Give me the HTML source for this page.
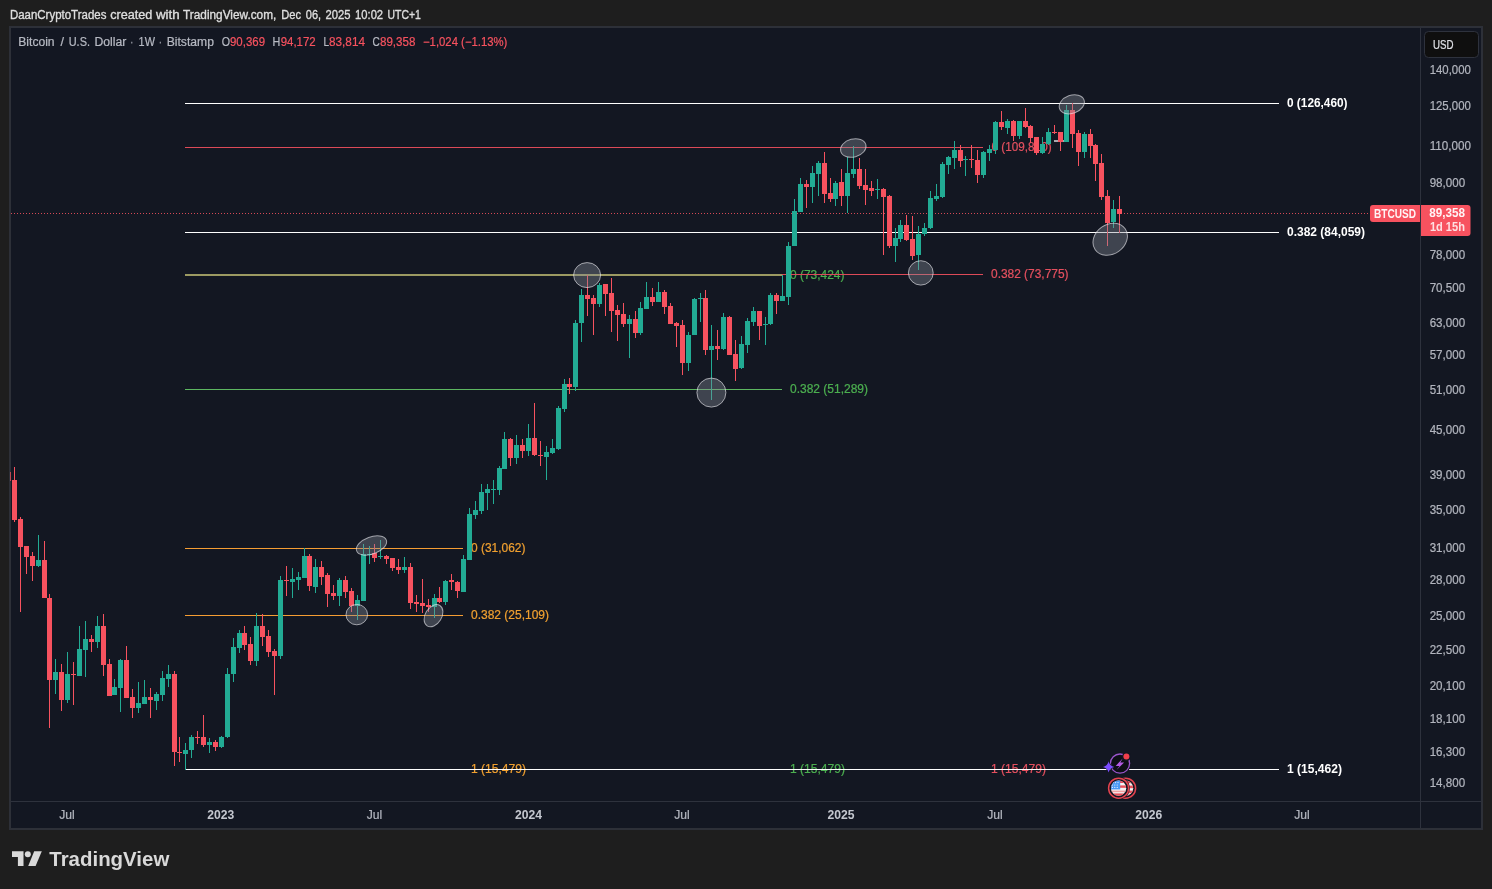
<!DOCTYPE html>
<html><head><meta charset="utf-8"><title>BTCUSD chart</title><style>html,body{margin:0;padding:0;background:#1e1e1e}svg{display:block}</style></head><body>
<svg width="1492" height="889" viewBox="0 0 1492 889" font-family='"Liberation Sans", "DejaVu Sans", sans-serif' font-size="12">
<rect width="1492" height="889" fill="#1e1e1e"/>
<text x="9.9" y="18.6" fill="#dedede" stroke="#dedede" stroke-width="0.35" textLength="96.5" lengthAdjust="spacingAndGlyphs">DaanCryptoTrades</text>
<text x="110.19999999999999" y="18.6" fill="#dedede" stroke="#dedede" stroke-width="0.35" textLength="42.2" lengthAdjust="spacingAndGlyphs">created</text>
<text x="155.9" y="18.6" fill="#dedede" stroke="#dedede" stroke-width="0.35" textLength="23.7" lengthAdjust="spacingAndGlyphs">with</text>
<text x="183.1" y="18.6" fill="#dedede" stroke="#dedede" stroke-width="0.35" textLength="93.2" lengthAdjust="spacingAndGlyphs">TradingView.com,</text>
<text x="281.3" y="18.6" fill="#dedede" stroke="#dedede" stroke-width="0.35" textLength="19.8" lengthAdjust="spacingAndGlyphs">Dec</text>
<text x="305.8" y="18.6" fill="#dedede" stroke="#dedede" stroke-width="0.35" textLength="15.3" lengthAdjust="spacingAndGlyphs">06,</text>
<text x="325.6" y="18.6" fill="#dedede" stroke="#dedede" stroke-width="0.35" textLength="25" lengthAdjust="spacingAndGlyphs">2025</text>
<text x="355.1" y="18.6" fill="#dedede" stroke="#dedede" stroke-width="0.35" textLength="28" lengthAdjust="spacingAndGlyphs">10:02</text>
<text x="387.5" y="18.6" fill="#dedede" stroke="#dedede" stroke-width="0.35" textLength="33.3" lengthAdjust="spacingAndGlyphs">UTC+1</text>
<rect x="10" y="27" width="1472" height="802" fill="#131722" stroke="#2d3038" stroke-width="2"/>
<g shape-rendering="crispEdges">
<rect x="1420" y="28" width="1" height="800" fill="#2e323d"/>
<rect x="11" y="801" width="1470" height="1" fill="#2e323d"/>
</g>
<line x1="185" x2="782" y1="275" y2="275" stroke="#9c9a62" stroke-width="2" stroke-opacity="1" shape-rendering="crispEdges"/>
<line x1="185" x2="782" y1="389.5" y2="389.5" stroke="#5db761" stroke-width="1" stroke-opacity="1" shape-rendering="crispEdges"/>
<text x="790" y="278.5" fill="#4caf50" stroke="#4caf50" stroke-width="0.22" textLength="54.5" lengthAdjust="spacingAndGlyphs">0 (73,424)</text>
<text x="790" y="393.1" fill="#4caf50" stroke="#4caf50" stroke-width="0.22" textLength="78" lengthAdjust="spacingAndGlyphs">0.382 (51,289)</text>
<text x="790" y="773.3" fill="#4caf50" stroke="#4caf50" stroke-width="0.22" textLength="55" lengthAdjust="spacingAndGlyphs">1 (15,479)</text>
<line x1="185" x2="983" y1="147.5" y2="147.5" stroke="#dd4a58" stroke-width="1" stroke-opacity="1" shape-rendering="crispEdges"/>
<line x1="782" x2="983" y1="274.5" y2="274.5" stroke="#dd4a58" stroke-width="1" stroke-opacity="1" shape-rendering="crispEdges"/>
<text x="991.6" y="151.2" fill="#e4505f" stroke="#e4505f" stroke-width="0.22" textLength="60" lengthAdjust="spacingAndGlyphs">0 (109,810)</text>
<text x="991" y="278.1" fill="#e4505f" stroke="#e4505f" stroke-width="0.22" textLength="77.5" lengthAdjust="spacingAndGlyphs">0.382 (73,775)</text>
<text x="991" y="773.3" fill="#e4505f" stroke="#e4505f" stroke-width="0.22" textLength="55" lengthAdjust="spacingAndGlyphs">1 (15,479)</text>
<line x1="185" x2="463" y1="548.5" y2="548.5" stroke="#f59d33" stroke-width="1" stroke-opacity="1" shape-rendering="crispEdges"/>
<line x1="185" x2="463" y1="615.5" y2="615.5" stroke="#f59d33" stroke-width="1" stroke-opacity="1" shape-rendering="crispEdges"/>
<text x="471" y="551.8" fill="#f0a030" stroke="#f0a030" stroke-width="0.22" textLength="54.5" lengthAdjust="spacingAndGlyphs">0 (31,062)</text>
<text x="471" y="619.1" fill="#f0a030" stroke="#f0a030" stroke-width="0.22" textLength="78" lengthAdjust="spacingAndGlyphs">0.382 (25,109)</text>
<text x="471" y="773.3" fill="#f0a030" stroke="#f0a030" stroke-width="0.22" textLength="55" lengthAdjust="spacingAndGlyphs">1 (15,479)</text>
<line x1="185" x2="1279" y1="103.5" y2="103.5" stroke="#ffffff" stroke-width="1" stroke-opacity="1" shape-rendering="crispEdges"/>
<line x1="185" x2="1279" y1="232.5" y2="232.5" stroke="#ffffff" stroke-width="1" stroke-opacity="1" shape-rendering="crispEdges"/>
<line x1="185" x2="1279" y1="769.5" y2="769.5" stroke="#ffffff" stroke-width="1" stroke-opacity="1" shape-rendering="crispEdges"/>
<text x="1287" y="107.3" fill="#ffffff" font-weight="700" textLength="60.5" lengthAdjust="spacingAndGlyphs">0 (126,460)</text>
<text x="1287" y="236" fill="#ffffff" font-weight="700" textLength="78" lengthAdjust="spacingAndGlyphs">0.382 (84,059)</text>
<text x="1287" y="773.3" fill="#ffffff" font-weight="700" textLength="55" lengthAdjust="spacingAndGlyphs">1 (15,462)</text>
<line x1="11" x2="1370" y1="213.5" y2="213.5" stroke="#f7525f" stroke-opacity="0.85" stroke-width="1" stroke-dasharray="1 2" shape-rendering="crispEdges"/>
<line x1="1054" x2="1065" y1="141" y2="141" stroke="#a8a9af" stroke-width="2" stroke-opacity="1" shape-rendering="crispEdges"/>
<g shape-rendering="crispEdges">
<rect x="10" y="472" width="1" height="9" fill="#f7525f" opacity="0.7"/>
<rect x="14" y="467" width="1" height="55" fill="#f7525f"/>
<rect x="12" y="480" width="5" height="40" fill="#f7525f"/>
<rect x="20" y="517" width="1" height="95" fill="#f7525f"/>
<rect x="18" y="519" width="5" height="28" fill="#f7525f"/>
<rect x="26" y="546" width="1" height="28" fill="#f7525f"/>
<rect x="24" y="546" width="5" height="11" fill="#f7525f"/>
<rect x="32" y="552" width="1" height="29" fill="#f7525f"/>
<rect x="30" y="556" width="5" height="10" fill="#f7525f"/>
<rect x="38" y="535" width="1" height="32" fill="#22ab94"/>
<rect x="36" y="560" width="5" height="6" fill="#22ab94"/>
<rect x="44" y="541" width="1" height="57" fill="#f7525f"/>
<rect x="42" y="560" width="5" height="38" fill="#f7525f"/>
<rect x="49" y="594" width="1" height="134" fill="#f7525f"/>
<rect x="47" y="598" width="5" height="82" fill="#f7525f"/>
<rect x="55" y="659" width="1" height="35" fill="#22ab94"/>
<rect x="53" y="672" width="5" height="8" fill="#22ab94"/>
<rect x="61" y="664" width="1" height="47" fill="#f7525f"/>
<rect x="59" y="672" width="5" height="28" fill="#f7525f"/>
<rect x="67" y="652" width="1" height="51" fill="#22ab94"/>
<rect x="65" y="674" width="5" height="26" fill="#22ab94"/>
<rect x="73" y="662" width="1" height="43" fill="#f7525f"/>
<rect x="71" y="674" width="5" height="1" fill="#f7525f"/>
<rect x="79" y="626" width="1" height="50" fill="#22ab94"/>
<rect x="77" y="649" width="5" height="27" fill="#22ab94"/>
<rect x="85" y="621" width="1" height="56" fill="#22ab94"/>
<rect x="83" y="639" width="5" height="11" fill="#22ab94"/>
<rect x="91" y="635" width="1" height="17" fill="#f7525f"/>
<rect x="89" y="639" width="5" height="3" fill="#f7525f"/>
<rect x="97" y="616" width="1" height="32" fill="#22ab94"/>
<rect x="95" y="626" width="5" height="16" fill="#22ab94"/>
<rect x="103" y="614" width="1" height="62" fill="#f7525f"/>
<rect x="101" y="626" width="5" height="39" fill="#f7525f"/>
<rect x="109" y="659" width="1" height="37" fill="#f7525f"/>
<rect x="107" y="664" width="5" height="32" fill="#f7525f"/>
<rect x="114" y="679" width="1" height="16" fill="#22ab94"/>
<rect x="112" y="687" width="5" height="8" fill="#22ab94"/>
<rect x="120" y="659" width="1" height="53" fill="#22ab94"/>
<rect x="118" y="660" width="5" height="28" fill="#22ab94"/>
<rect x="126" y="646" width="1" height="52" fill="#f7525f"/>
<rect x="124" y="660" width="5" height="38" fill="#f7525f"/>
<rect x="132" y="689" width="1" height="29" fill="#f7525f"/>
<rect x="130" y="697" width="5" height="11" fill="#f7525f"/>
<rect x="138" y="682" width="1" height="31" fill="#22ab94"/>
<rect x="136" y="703" width="5" height="5" fill="#22ab94"/>
<rect x="144" y="680" width="1" height="24" fill="#22ab94"/>
<rect x="142" y="697" width="5" height="7" fill="#22ab94"/>
<rect x="150" y="688" width="1" height="30" fill="#f7525f"/>
<rect x="148" y="697" width="5" height="3" fill="#f7525f"/>
<rect x="156" y="692" width="1" height="18" fill="#22ab94"/>
<rect x="154" y="694" width="5" height="7" fill="#22ab94"/>
<rect x="162" y="671" width="1" height="30" fill="#22ab94"/>
<rect x="160" y="678" width="5" height="17" fill="#22ab94"/>
<rect x="168" y="665" width="1" height="22" fill="#22ab94"/>
<rect x="166" y="674" width="5" height="5" fill="#22ab94"/>
<rect x="174" y="671" width="1" height="95" fill="#f7525f"/>
<rect x="172" y="674" width="5" height="78" fill="#f7525f"/>
<rect x="179" y="737" width="1" height="25" fill="#f7525f"/>
<rect x="177" y="752" width="5" height="1" fill="#f7525f"/>
<rect x="185" y="743" width="1" height="27" fill="#22ab94"/>
<rect x="183" y="750" width="5" height="4" fill="#22ab94"/>
<rect x="191" y="735" width="1" height="23" fill="#22ab94"/>
<rect x="189" y="737" width="5" height="13" fill="#22ab94"/>
<rect x="197" y="731" width="1" height="13" fill="#f7525f"/>
<rect x="195" y="737" width="5" height="1" fill="#f7525f"/>
<rect x="203" y="715" width="1" height="32" fill="#f7525f"/>
<rect x="201" y="737" width="5" height="8" fill="#f7525f"/>
<rect x="209" y="738" width="1" height="15" fill="#22ab94"/>
<rect x="207" y="742" width="5" height="3" fill="#22ab94"/>
<rect x="215" y="740" width="1" height="11" fill="#f7525f"/>
<rect x="213" y="742" width="5" height="5" fill="#f7525f"/>
<rect x="221" y="736" width="1" height="12" fill="#22ab94"/>
<rect x="219" y="737" width="5" height="10" fill="#22ab94"/>
<rect x="227" y="668" width="1" height="70" fill="#22ab94"/>
<rect x="225" y="674" width="5" height="63" fill="#22ab94"/>
<rect x="233" y="638" width="1" height="44" fill="#22ab94"/>
<rect x="231" y="647" width="5" height="27" fill="#22ab94"/>
<rect x="239" y="630" width="1" height="23" fill="#22ab94"/>
<rect x="237" y="633" width="5" height="15" fill="#22ab94"/>
<rect x="244" y="626" width="1" height="24" fill="#f7525f"/>
<rect x="242" y="633" width="5" height="12" fill="#f7525f"/>
<rect x="250" y="637" width="1" height="28" fill="#f7525f"/>
<rect x="248" y="644" width="5" height="17" fill="#f7525f"/>
<rect x="256" y="613" width="1" height="53" fill="#22ab94"/>
<rect x="254" y="626" width="5" height="35" fill="#22ab94"/>
<rect x="262" y="614" width="1" height="32" fill="#f7525f"/>
<rect x="260" y="626" width="5" height="11" fill="#f7525f"/>
<rect x="268" y="630" width="1" height="27" fill="#f7525f"/>
<rect x="266" y="636" width="5" height="16" fill="#f7525f"/>
<rect x="274" y="649" width="1" height="46" fill="#f7525f"/>
<rect x="272" y="651" width="5" height="5" fill="#f7525f"/>
<rect x="280" y="576" width="1" height="83" fill="#22ab94"/>
<rect x="278" y="580" width="5" height="76" fill="#22ab94"/>
<rect x="286" y="566" width="1" height="30" fill="#f7525f"/>
<rect x="284" y="580" width="5" height="1" fill="#f7525f"/>
<rect x="292" y="568" width="1" height="30" fill="#22ab94"/>
<rect x="290" y="579" width="5" height="3" fill="#22ab94"/>
<rect x="298" y="572" width="1" height="18" fill="#22ab94"/>
<rect x="296" y="577" width="5" height="3" fill="#22ab94"/>
<rect x="304" y="548" width="1" height="30" fill="#22ab94"/>
<rect x="302" y="556" width="5" height="22" fill="#22ab94"/>
<rect x="309" y="554" width="1" height="37" fill="#f7525f"/>
<rect x="307" y="556" width="5" height="30" fill="#f7525f"/>
<rect x="315" y="559" width="1" height="34" fill="#22ab94"/>
<rect x="313" y="567" width="5" height="20" fill="#22ab94"/>
<rect x="321" y="561" width="1" height="24" fill="#f7525f"/>
<rect x="319" y="567" width="5" height="10" fill="#f7525f"/>
<rect x="327" y="573" width="1" height="34" fill="#f7525f"/>
<rect x="325" y="575" width="5" height="19" fill="#f7525f"/>
<rect x="333" y="585" width="1" height="15" fill="#f7525f"/>
<rect x="331" y="593" width="5" height="3" fill="#f7525f"/>
<rect x="339" y="578" width="1" height="28" fill="#22ab94"/>
<rect x="337" y="580" width="5" height="16" fill="#22ab94"/>
<rect x="345" y="576" width="1" height="22" fill="#f7525f"/>
<rect x="343" y="580" width="5" height="12" fill="#f7525f"/>
<rect x="351" y="588" width="1" height="24" fill="#f7525f"/>
<rect x="349" y="591" width="5" height="15" fill="#f7525f"/>
<rect x="357" y="595" width="1" height="25" fill="#22ab94"/>
<rect x="355" y="600" width="5" height="6" fill="#22ab94"/>
<rect x="363" y="544" width="1" height="57" fill="#22ab94"/>
<rect x="361" y="554" width="5" height="47" fill="#22ab94"/>
<rect x="369" y="546" width="1" height="18" fill="#22ab94"/>
<rect x="367" y="554" width="5" height="1" fill="#22ab94"/>
<rect x="374" y="544" width="1" height="18" fill="#f7525f"/>
<rect x="372" y="553" width="5" height="5" fill="#f7525f"/>
<rect x="380" y="540" width="1" height="19" fill="#22ab94"/>
<rect x="378" y="556" width="5" height="1" fill="#22ab94"/>
<rect x="386" y="555" width="1" height="9" fill="#f7525f"/>
<rect x="384" y="556" width="5" height="3" fill="#f7525f"/>
<rect x="392" y="558" width="1" height="13" fill="#f7525f"/>
<rect x="390" y="558" width="5" height="10" fill="#f7525f"/>
<rect x="398" y="559" width="1" height="15" fill="#f7525f"/>
<rect x="396" y="567" width="5" height="3" fill="#f7525f"/>
<rect x="404" y="557" width="1" height="16" fill="#22ab94"/>
<rect x="402" y="567" width="5" height="3" fill="#22ab94"/>
<rect x="410" y="563" width="1" height="46" fill="#f7525f"/>
<rect x="408" y="567" width="5" height="36" fill="#f7525f"/>
<rect x="416" y="595" width="1" height="17" fill="#f7525f"/>
<rect x="414" y="602" width="5" height="2" fill="#f7525f"/>
<rect x="422" y="579" width="1" height="34" fill="#f7525f"/>
<rect x="420" y="603" width="5" height="3" fill="#f7525f"/>
<rect x="428" y="599" width="1" height="13" fill="#f7525f"/>
<rect x="426" y="605" width="5" height="2" fill="#f7525f"/>
<rect x="434" y="594" width="1" height="24" fill="#22ab94"/>
<rect x="432" y="598" width="5" height="9" fill="#22ab94"/>
<rect x="439" y="587" width="1" height="16" fill="#f7525f"/>
<rect x="437" y="598" width="5" height="4" fill="#f7525f"/>
<rect x="445" y="580" width="1" height="25" fill="#22ab94"/>
<rect x="443" y="581" width="5" height="21" fill="#22ab94"/>
<rect x="451" y="574" width="1" height="16" fill="#f7525f"/>
<rect x="449" y="580" width="5" height="2" fill="#f7525f"/>
<rect x="457" y="581" width="1" height="17" fill="#f7525f"/>
<rect x="455" y="582" width="5" height="9" fill="#f7525f"/>
<rect x="463" y="555" width="1" height="37" fill="#22ab94"/>
<rect x="461" y="559" width="5" height="33" fill="#22ab94"/>
<rect x="469" y="508" width="1" height="52" fill="#22ab94"/>
<rect x="467" y="514" width="5" height="46" fill="#22ab94"/>
<rect x="475" y="501" width="1" height="18" fill="#22ab94"/>
<rect x="473" y="510" width="5" height="5" fill="#22ab94"/>
<rect x="481" y="484" width="1" height="30" fill="#22ab94"/>
<rect x="479" y="492" width="5" height="19" fill="#22ab94"/>
<rect x="487" y="484" width="1" height="26" fill="#22ab94"/>
<rect x="485" y="489" width="5" height="4" fill="#22ab94"/>
<rect x="493" y="480" width="1" height="24" fill="#22ab94"/>
<rect x="491" y="489" width="5" height="1" fill="#22ab94"/>
<rect x="499" y="466" width="1" height="29" fill="#22ab94"/>
<rect x="497" y="468" width="5" height="22" fill="#22ab94"/>
<rect x="504" y="432" width="1" height="37" fill="#22ab94"/>
<rect x="502" y="439" width="5" height="30" fill="#22ab94"/>
<rect x="510" y="438" width="1" height="28" fill="#f7525f"/>
<rect x="508" y="439" width="5" height="19" fill="#f7525f"/>
<rect x="516" y="435" width="1" height="29" fill="#22ab94"/>
<rect x="514" y="445" width="5" height="13" fill="#22ab94"/>
<rect x="522" y="439" width="1" height="19" fill="#f7525f"/>
<rect x="520" y="445" width="5" height="6" fill="#f7525f"/>
<rect x="528" y="424" width="1" height="32" fill="#22ab94"/>
<rect x="526" y="438" width="5" height="13" fill="#22ab94"/>
<rect x="534" y="403" width="1" height="53" fill="#f7525f"/>
<rect x="532" y="438" width="5" height="17" fill="#f7525f"/>
<rect x="540" y="441" width="1" height="25" fill="#f7525f"/>
<rect x="538" y="455" width="5" height="1" fill="#f7525f"/>
<rect x="546" y="446" width="1" height="34" fill="#22ab94"/>
<rect x="544" y="452" width="5" height="5" fill="#22ab94"/>
<rect x="552" y="439" width="1" height="15" fill="#22ab94"/>
<rect x="550" y="448" width="5" height="5" fill="#22ab94"/>
<rect x="558" y="406" width="1" height="44" fill="#22ab94"/>
<rect x="556" y="408" width="5" height="41" fill="#22ab94"/>
<rect x="564" y="379" width="1" height="33" fill="#22ab94"/>
<rect x="562" y="384" width="5" height="25" fill="#22ab94"/>
<rect x="569" y="378" width="1" height="16" fill="#f7525f"/>
<rect x="567" y="384" width="5" height="3" fill="#f7525f"/>
<rect x="575" y="320" width="1" height="71" fill="#22ab94"/>
<rect x="573" y="323" width="5" height="64" fill="#22ab94"/>
<rect x="581" y="289" width="1" height="53" fill="#22ab94"/>
<rect x="579" y="295" width="5" height="28" fill="#22ab94"/>
<rect x="587" y="275" width="1" height="41" fill="#f7525f"/>
<rect x="585" y="295" width="5" height="4" fill="#f7525f"/>
<rect x="593" y="295" width="1" height="40" fill="#f7525f"/>
<rect x="591" y="298" width="5" height="6" fill="#f7525f"/>
<rect x="599" y="283" width="1" height="24" fill="#22ab94"/>
<rect x="597" y="285" width="5" height="19" fill="#22ab94"/>
<rect x="605" y="284" width="1" height="32" fill="#f7525f"/>
<rect x="603" y="284" width="5" height="10" fill="#f7525f"/>
<rect x="611" y="278" width="1" height="54" fill="#f7525f"/>
<rect x="609" y="293" width="5" height="18" fill="#f7525f"/>
<rect x="617" y="305" width="1" height="36" fill="#f7525f"/>
<rect x="615" y="310" width="5" height="5" fill="#f7525f"/>
<rect x="623" y="303" width="1" height="24" fill="#f7525f"/>
<rect x="621" y="314" width="5" height="10" fill="#f7525f"/>
<rect x="629" y="315" width="1" height="43" fill="#22ab94"/>
<rect x="627" y="319" width="5" height="5" fill="#22ab94"/>
<rect x="635" y="311" width="1" height="27" fill="#f7525f"/>
<rect x="633" y="319" width="5" height="14" fill="#f7525f"/>
<rect x="640" y="302" width="1" height="33" fill="#22ab94"/>
<rect x="638" y="308" width="5" height="25" fill="#22ab94"/>
<rect x="646" y="282" width="1" height="27" fill="#22ab94"/>
<rect x="644" y="297" width="5" height="12" fill="#22ab94"/>
<rect x="652" y="288" width="1" height="18" fill="#f7525f"/>
<rect x="650" y="297" width="5" height="5" fill="#f7525f"/>
<rect x="658" y="282" width="1" height="20" fill="#22ab94"/>
<rect x="656" y="292" width="5" height="10" fill="#22ab94"/>
<rect x="664" y="290" width="1" height="24" fill="#f7525f"/>
<rect x="662" y="292" width="5" height="15" fill="#f7525f"/>
<rect x="670" y="303" width="1" height="21" fill="#f7525f"/>
<rect x="668" y="306" width="5" height="18" fill="#f7525f"/>
<rect x="676" y="322" width="1" height="25" fill="#f7525f"/>
<rect x="674" y="323" width="5" height="3" fill="#f7525f"/>
<rect x="682" y="320" width="1" height="55" fill="#f7525f"/>
<rect x="680" y="325" width="5" height="38" fill="#f7525f"/>
<rect x="688" y="332" width="1" height="39" fill="#22ab94"/>
<rect x="686" y="335" width="5" height="28" fill="#22ab94"/>
<rect x="694" y="298" width="1" height="37" fill="#22ab94"/>
<rect x="692" y="299" width="5" height="36" fill="#22ab94"/>
<rect x="700" y="293" width="1" height="29" fill="#22ab94"/>
<rect x="698" y="298" width="5" height="1" fill="#22ab94"/>
<rect x="705" y="290" width="1" height="65" fill="#f7525f"/>
<rect x="703" y="298" width="5" height="52" fill="#f7525f"/>
<rect x="711" y="325" width="1" height="75" fill="#22ab94"/>
<rect x="709" y="346" width="5" height="4" fill="#22ab94"/>
<rect x="717" y="330" width="1" height="30" fill="#f7525f"/>
<rect x="715" y="346" width="5" height="3" fill="#f7525f"/>
<rect x="723" y="313" width="1" height="37" fill="#22ab94"/>
<rect x="721" y="317" width="5" height="32" fill="#22ab94"/>
<rect x="729" y="316" width="1" height="39" fill="#f7525f"/>
<rect x="727" y="317" width="5" height="38" fill="#f7525f"/>
<rect x="735" y="340" width="1" height="41" fill="#f7525f"/>
<rect x="733" y="354" width="5" height="15" fill="#f7525f"/>
<rect x="741" y="336" width="1" height="33" fill="#22ab94"/>
<rect x="739" y="344" width="5" height="24" fill="#22ab94"/>
<rect x="747" y="318" width="1" height="35" fill="#22ab94"/>
<rect x="745" y="321" width="5" height="24" fill="#22ab94"/>
<rect x="753" y="307" width="1" height="19" fill="#22ab94"/>
<rect x="751" y="311" width="5" height="11" fill="#22ab94"/>
<rect x="759" y="311" width="1" height="29" fill="#f7525f"/>
<rect x="757" y="311" width="5" height="15" fill="#f7525f"/>
<rect x="765" y="317" width="1" height="28" fill="#22ab94"/>
<rect x="763" y="324" width="5" height="1" fill="#22ab94"/>
<rect x="770" y="293" width="1" height="32" fill="#22ab94"/>
<rect x="768" y="295" width="5" height="29" fill="#22ab94"/>
<rect x="776" y="293" width="1" height="21" fill="#f7525f"/>
<rect x="774" y="295" width="5" height="6" fill="#f7525f"/>
<rect x="782" y="275" width="1" height="26" fill="#22ab94"/>
<rect x="780" y="296" width="5" height="5" fill="#22ab94"/>
<rect x="788" y="242" width="1" height="63" fill="#22ab94"/>
<rect x="786" y="246" width="5" height="51" fill="#22ab94"/>
<rect x="794" y="199" width="1" height="47" fill="#22ab94"/>
<rect x="792" y="211" width="5" height="35" fill="#22ab94"/>
<rect x="800" y="178" width="1" height="34" fill="#22ab94"/>
<rect x="798" y="184" width="5" height="28" fill="#22ab94"/>
<rect x="806" y="180" width="1" height="28" fill="#f7525f"/>
<rect x="804" y="184" width="5" height="3" fill="#f7525f"/>
<rect x="812" y="166" width="1" height="37" fill="#22ab94"/>
<rect x="810" y="173" width="5" height="14" fill="#22ab94"/>
<rect x="818" y="161" width="1" height="35" fill="#22ab94"/>
<rect x="816" y="163" width="5" height="11" fill="#22ab94"/>
<rect x="824" y="152" width="1" height="51" fill="#f7525f"/>
<rect x="822" y="163" width="5" height="31" fill="#f7525f"/>
<rect x="830" y="178" width="1" height="24" fill="#f7525f"/>
<rect x="828" y="193" width="5" height="6" fill="#f7525f"/>
<rect x="835" y="181" width="1" height="25" fill="#22ab94"/>
<rect x="833" y="183" width="5" height="16" fill="#22ab94"/>
<rect x="841" y="169" width="1" height="37" fill="#f7525f"/>
<rect x="839" y="182" width="5" height="14" fill="#f7525f"/>
<rect x="847" y="157" width="1" height="56" fill="#22ab94"/>
<rect x="845" y="173" width="5" height="23" fill="#22ab94"/>
<rect x="853" y="146" width="1" height="32" fill="#22ab94"/>
<rect x="851" y="169" width="5" height="5" fill="#22ab94"/>
<rect x="859" y="158" width="1" height="31" fill="#f7525f"/>
<rect x="857" y="169" width="5" height="17" fill="#f7525f"/>
<rect x="865" y="169" width="1" height="36" fill="#f7525f"/>
<rect x="863" y="185" width="5" height="5" fill="#f7525f"/>
<rect x="871" y="181" width="1" height="15" fill="#f7525f"/>
<rect x="869" y="188" width="5" height="3" fill="#f7525f"/>
<rect x="877" y="179" width="1" height="20" fill="#22ab94"/>
<rect x="875" y="189" width="5" height="1" fill="#22ab94"/>
<rect x="883" y="188" width="1" height="67" fill="#f7525f"/>
<rect x="881" y="189" width="5" height="8" fill="#f7525f"/>
<rect x="889" y="195" width="1" height="53" fill="#f7525f"/>
<rect x="887" y="196" width="5" height="50" fill="#f7525f"/>
<rect x="895" y="228" width="1" height="34" fill="#22ab94"/>
<rect x="893" y="238" width="5" height="8" fill="#22ab94"/>
<rect x="900" y="220" width="1" height="22" fill="#22ab94"/>
<rect x="898" y="225" width="5" height="14" fill="#22ab94"/>
<rect x="906" y="215" width="1" height="26" fill="#f7525f"/>
<rect x="904" y="225" width="5" height="15" fill="#f7525f"/>
<rect x="912" y="216" width="1" height="44" fill="#f7525f"/>
<rect x="910" y="239" width="5" height="17" fill="#f7525f"/>
<rect x="918" y="226" width="1" height="44" fill="#22ab94"/>
<rect x="916" y="234" width="5" height="21" fill="#22ab94"/>
<rect x="924" y="223" width="1" height="13" fill="#22ab94"/>
<rect x="922" y="228" width="5" height="6" fill="#22ab94"/>
<rect x="930" y="191" width="1" height="38" fill="#22ab94"/>
<rect x="928" y="198" width="5" height="30" fill="#22ab94"/>
<rect x="936" y="184" width="1" height="17" fill="#22ab94"/>
<rect x="934" y="196" width="5" height="3" fill="#22ab94"/>
<rect x="942" y="162" width="1" height="36" fill="#22ab94"/>
<rect x="940" y="164" width="5" height="33" fill="#22ab94"/>
<rect x="948" y="156" width="1" height="18" fill="#22ab94"/>
<rect x="946" y="157" width="5" height="8" fill="#22ab94"/>
<rect x="954" y="141" width="1" height="28" fill="#22ab94"/>
<rect x="952" y="150" width="5" height="8" fill="#22ab94"/>
<rect x="960" y="145" width="1" height="22" fill="#f7525f"/>
<rect x="958" y="150" width="5" height="11" fill="#f7525f"/>
<rect x="965" y="156" width="1" height="20" fill="#22ab94"/>
<rect x="963" y="159" width="5" height="1" fill="#22ab94"/>
<rect x="971" y="145" width="1" height="23" fill="#f7525f"/>
<rect x="969" y="159" width="5" height="1" fill="#f7525f"/>
<rect x="977" y="150" width="1" height="33" fill="#f7525f"/>
<rect x="975" y="160" width="5" height="15" fill="#f7525f"/>
<rect x="983" y="151" width="1" height="27" fill="#22ab94"/>
<rect x="981" y="152" width="5" height="23" fill="#22ab94"/>
<rect x="989" y="145" width="1" height="16" fill="#22ab94"/>
<rect x="987" y="149" width="5" height="4" fill="#22ab94"/>
<rect x="995" y="121" width="1" height="33" fill="#22ab94"/>
<rect x="993" y="122" width="5" height="28" fill="#22ab94"/>
<rect x="1001" y="111" width="1" height="19" fill="#f7525f"/>
<rect x="999" y="122" width="5" height="5" fill="#f7525f"/>
<rect x="1007" y="119" width="1" height="15" fill="#22ab94"/>
<rect x="1005" y="121" width="5" height="7" fill="#22ab94"/>
<rect x="1013" y="120" width="1" height="21" fill="#f7525f"/>
<rect x="1011" y="121" width="5" height="15" fill="#f7525f"/>
<rect x="1019" y="121" width="1" height="18" fill="#22ab94"/>
<rect x="1017" y="121" width="5" height="15" fill="#22ab94"/>
<rect x="1025" y="108" width="1" height="20" fill="#f7525f"/>
<rect x="1023" y="121" width="5" height="6" fill="#f7525f"/>
<rect x="1030" y="125" width="1" height="18" fill="#f7525f"/>
<rect x="1028" y="126" width="5" height="12" fill="#f7525f"/>
<rect x="1036" y="137" width="1" height="18" fill="#f7525f"/>
<rect x="1034" y="137" width="5" height="16" fill="#f7525f"/>
<rect x="1042" y="137" width="1" height="17" fill="#22ab94"/>
<rect x="1040" y="144" width="5" height="9" fill="#22ab94"/>
<rect x="1048" y="128" width="1" height="17" fill="#22ab94"/>
<rect x="1046" y="132" width="5" height="12" fill="#22ab94"/>
<rect x="1054" y="125" width="1" height="9" fill="#f7525f"/>
<rect x="1052" y="132" width="5" height="1" fill="#f7525f"/>
<rect x="1060" y="132" width="1" height="19" fill="#f7525f"/>
<rect x="1058" y="132" width="5" height="10" fill="#f7525f"/>
<rect x="1066" y="105" width="1" height="37" fill="#22ab94"/>
<rect x="1064" y="110" width="5" height="32" fill="#22ab94"/>
<rect x="1072" y="103" width="1" height="45" fill="#f7525f"/>
<rect x="1070" y="110" width="5" height="24" fill="#f7525f"/>
<rect x="1078" y="130" width="1" height="36" fill="#f7525f"/>
<rect x="1076" y="133" width="5" height="19" fill="#f7525f"/>
<rect x="1084" y="132" width="1" height="26" fill="#22ab94"/>
<rect x="1082" y="134" width="5" height="18" fill="#22ab94"/>
<rect x="1090" y="129" width="1" height="29" fill="#f7525f"/>
<rect x="1088" y="134" width="5" height="12" fill="#f7525f"/>
<rect x="1095" y="144" width="1" height="37" fill="#f7525f"/>
<rect x="1093" y="145" width="5" height="19" fill="#f7525f"/>
<rect x="1101" y="154" width="1" height="46" fill="#f7525f"/>
<rect x="1099" y="163" width="5" height="34" fill="#f7525f"/>
<rect x="1107" y="190" width="1" height="56" fill="#f7525f"/>
<rect x="1105" y="196" width="5" height="27" fill="#f7525f"/>
<rect x="1113" y="200" width="1" height="28" fill="#22ab94"/>
<rect x="1111" y="209" width="5" height="13" fill="#22ab94"/>
<rect x="1119" y="196" width="1" height="37" fill="#f7525f"/>
<rect x="1117" y="209" width="5" height="5" fill="#f7525f"/>
</g>
<ellipse cx="371.5" cy="545.5" rx="15.8" ry="8.6" transform="rotate(-20 371.5 545.5)" fill="#8a8d98" fill-opacity="0.38" stroke="#ececf0" stroke-opacity="0.62" stroke-width="1"/>
<ellipse cx="356.8" cy="614.6" rx="10.8" ry="10.2" transform="rotate(0 356.8 614.6)" fill="#8a8d98" fill-opacity="0.38" stroke="#ececf0" stroke-opacity="0.62" stroke-width="1"/>
<ellipse cx="433.5" cy="615.7" rx="12" ry="8.2" transform="rotate(-58 433.5 615.7)" fill="#8a8d98" fill-opacity="0.38" stroke="#ececf0" stroke-opacity="0.62" stroke-width="1"/>
<ellipse cx="587.1" cy="275.1" rx="13.5" ry="12.5" transform="rotate(0 587.1 275.1)" fill="#8a8d98" fill-opacity="0.38" stroke="#ececf0" stroke-opacity="0.62" stroke-width="1"/>
<ellipse cx="711.4" cy="392.6" rx="14.5" ry="14.5" transform="rotate(0 711.4 392.6)" fill="#8a8d98" fill-opacity="0.38" stroke="#ececf0" stroke-opacity="0.62" stroke-width="1"/>
<ellipse cx="853.3" cy="148" rx="13" ry="9" transform="rotate(-15 853.3 148)" fill="#8a8d98" fill-opacity="0.38" stroke="#ececf0" stroke-opacity="0.62" stroke-width="1"/>
<ellipse cx="920.8" cy="272.9" rx="12.4" ry="12.2" transform="rotate(0 920.8 272.9)" fill="#8a8d98" fill-opacity="0.38" stroke="#ececf0" stroke-opacity="0.62" stroke-width="1"/>
<ellipse cx="1071.8" cy="104.3" rx="13" ry="9" transform="rotate(-20 1071.8 104.3)" fill="#8a8d98" fill-opacity="0.38" stroke="#ececf0" stroke-opacity="0.62" stroke-width="1"/>
<ellipse cx="1110.2" cy="239.2" rx="18.3" ry="14.8" transform="rotate(-35 1110.2 239.2)" fill="#8a8d98" fill-opacity="0.38" stroke="#ececf0" stroke-opacity="0.62" stroke-width="1"/>
<text x="1429.7" y="73.9" fill="#b2b5be" stroke="#b2b5be" stroke-width="0.22" textLength="41.2" lengthAdjust="spacingAndGlyphs">140,000</text>
<text x="1429.7" y="109.8" fill="#b2b5be" stroke="#b2b5be" stroke-width="0.22" textLength="41.2" lengthAdjust="spacingAndGlyphs">125,000</text>
<text x="1429.7" y="150.4" fill="#b2b5be" stroke="#b2b5be" stroke-width="0.22" textLength="41.2" lengthAdjust="spacingAndGlyphs">110,000</text>
<text x="1429.7" y="187.0" fill="#b2b5be" stroke="#b2b5be" stroke-width="0.22" textLength="35.4" lengthAdjust="spacingAndGlyphs">98,000</text>
<text x="1429.7" y="259.4" fill="#b2b5be" stroke="#b2b5be" stroke-width="0.22" textLength="35.4" lengthAdjust="spacingAndGlyphs">78,000</text>
<text x="1429.7" y="291.5" fill="#b2b5be" stroke="#b2b5be" stroke-width="0.22" textLength="35.4" lengthAdjust="spacingAndGlyphs">70,500</text>
<text x="1429.7" y="327.2" fill="#b2b5be" stroke="#b2b5be" stroke-width="0.22" textLength="35.4" lengthAdjust="spacingAndGlyphs">63,000</text>
<text x="1429.7" y="358.9" fill="#b2b5be" stroke="#b2b5be" stroke-width="0.22" textLength="35.4" lengthAdjust="spacingAndGlyphs">57,000</text>
<text x="1429.7" y="394.2" fill="#b2b5be" stroke="#b2b5be" stroke-width="0.22" textLength="35.4" lengthAdjust="spacingAndGlyphs">51,000</text>
<text x="1429.7" y="433.9" fill="#b2b5be" stroke="#b2b5be" stroke-width="0.22" textLength="35.4" lengthAdjust="spacingAndGlyphs">45,000</text>
<text x="1429.7" y="479.3" fill="#b2b5be" stroke="#b2b5be" stroke-width="0.22" textLength="35.4" lengthAdjust="spacingAndGlyphs">39,000</text>
<text x="1429.7" y="513.6" fill="#b2b5be" stroke="#b2b5be" stroke-width="0.22" textLength="35.4" lengthAdjust="spacingAndGlyphs">35,000</text>
<text x="1429.7" y="552.1" fill="#b2b5be" stroke="#b2b5be" stroke-width="0.22" textLength="35.4" lengthAdjust="spacingAndGlyphs">31,000</text>
<text x="1429.7" y="584.4" fill="#b2b5be" stroke="#b2b5be" stroke-width="0.22" textLength="35.4" lengthAdjust="spacingAndGlyphs">28,000</text>
<text x="1429.7" y="620.4" fill="#b2b5be" stroke="#b2b5be" stroke-width="0.22" textLength="35.4" lengthAdjust="spacingAndGlyphs">25,000</text>
<text x="1429.7" y="653.8" fill="#b2b5be" stroke="#b2b5be" stroke-width="0.22" textLength="35.4" lengthAdjust="spacingAndGlyphs">22,500</text>
<text x="1429.7" y="689.6" fill="#b2b5be" stroke="#b2b5be" stroke-width="0.22" textLength="35.4" lengthAdjust="spacingAndGlyphs">20,100</text>
<text x="1429.7" y="722.8" fill="#b2b5be" stroke="#b2b5be" stroke-width="0.22" textLength="35.4" lengthAdjust="spacingAndGlyphs">18,100</text>
<text x="1429.7" y="756.0" fill="#b2b5be" stroke="#b2b5be" stroke-width="0.22" textLength="35.4" lengthAdjust="spacingAndGlyphs">16,300</text>
<text x="1429.7" y="786.7" fill="#b2b5be" stroke="#b2b5be" stroke-width="0.22" textLength="35.4" lengthAdjust="spacingAndGlyphs">14,800</text>
<rect x="1424.5" y="31.5" width="54" height="26" rx="4" fill="#0f0f0f" stroke="#2e323d"/>
<text x="1433" y="49" fill="#dfe1e6" stroke="#dfe1e6" stroke-width="0.22" textLength="20.5" lengthAdjust="spacingAndGlyphs">USD</text>
<path d="M1373 205 H1420 V222 H1373 Q1370 222 1370 219 V208 Q1370 205 1373 205 Z" fill="#f7525f"/>
<path d="M1421 205 H1467.5 Q1470.5 205 1470.5 208 V233 Q1470.5 236 1467.5 236 H1421 Z" fill="#f7525f"/>
<text x="1374" y="217.5" fill="#fff4f5" font-weight="700" textLength="42" lengthAdjust="spacingAndGlyphs">BTCUSD</text>
<text x="1429.2" y="217.3" fill="#fff4f5" font-weight="700" textLength="35.8" lengthAdjust="spacingAndGlyphs">89,358</text>
<text x="1429.9" y="231.3" fill="#ffffff" font-weight="700" textLength="35" lengthAdjust="spacingAndGlyphs" fill-opacity="0.82">1d 15h</text>
<text x="18.3" y="45.6" fill="#b7bac3" stroke="#b7bac3" stroke-width="0.22" textLength="36.3" lengthAdjust="spacingAndGlyphs">Bitcoin</text>
<text x="60.5" y="45.6" fill="#b7bac3" stroke="#b7bac3" stroke-width="0.22" textLength="3.5" lengthAdjust="spacingAndGlyphs">/</text>
<text x="68.7" y="45.6" fill="#b7bac3" stroke="#b7bac3" stroke-width="0.22" textLength="21.3" lengthAdjust="spacingAndGlyphs">U.S.</text>
<text x="94.4" y="45.6" fill="#b7bac3" stroke="#b7bac3" stroke-width="0.22" textLength="31.9" lengthAdjust="spacingAndGlyphs">Dollar</text>
<text x="130.6" y="45.6" fill="#b7bac3" stroke="#b7bac3" stroke-width="0.22" textLength="2.6" lengthAdjust="spacingAndGlyphs">·</text>
<text x="138.6" y="45.6" fill="#b7bac3" stroke="#b7bac3" stroke-width="0.22" textLength="16.3" lengthAdjust="spacingAndGlyphs">1W</text>
<text x="158.9" y="45.6" fill="#b7bac3" stroke="#b7bac3" stroke-width="0.22" textLength="2.6" lengthAdjust="spacingAndGlyphs">·</text>
<text x="166.7" y="45.6" fill="#b7bac3" stroke="#b7bac3" stroke-width="0.22" textLength="47.2" lengthAdjust="spacingAndGlyphs">Bitstamp</text>
<text x="221.7" y="45.6" fill="#b7bac3" stroke="#b7bac3" stroke-width="0.22" textLength="8.3" lengthAdjust="spacingAndGlyphs">O</text>
<text x="230" y="45.6" fill="#f7525f" stroke="#f7525f" stroke-width="0.22" textLength="35" lengthAdjust="spacingAndGlyphs">90,369</text>
<text x="272.6" y="45.6" fill="#b7bac3" stroke="#b7bac3" stroke-width="0.22" textLength="7.8" lengthAdjust="spacingAndGlyphs">H</text>
<text x="280.7" y="45.6" fill="#f7525f" stroke="#f7525f" stroke-width="0.22" textLength="35" lengthAdjust="spacingAndGlyphs">94,172</text>
<text x="323.6" y="45.6" fill="#b7bac3" stroke="#b7bac3" stroke-width="0.22" textLength="5.6" lengthAdjust="spacingAndGlyphs">L</text>
<text x="329" y="45.6" fill="#f7525f" stroke="#f7525f" stroke-width="0.22" textLength="36" lengthAdjust="spacingAndGlyphs">83,814</text>
<text x="372.4" y="45.6" fill="#b7bac3" stroke="#b7bac3" stroke-width="0.22" textLength="7.3" lengthAdjust="spacingAndGlyphs">C</text>
<text x="380" y="45.6" fill="#f7525f" stroke="#f7525f" stroke-width="0.22" textLength="35.4" lengthAdjust="spacingAndGlyphs">89,358</text>
<text x="423" y="45.6" fill="#f7525f" stroke="#f7525f" stroke-width="0.22" textLength="84.4" lengthAdjust="spacingAndGlyphs">−1,024 (−1.13%)</text>
<text x="67" y="819.3" fill="#b2b5be" stroke="#b2b5be" stroke-width="0.22" text-anchor="middle" textLength="15.5" lengthAdjust="spacingAndGlyphs">Jul</text>
<text x="220.7" y="819.3" fill="#c4c7cf" font-weight="700" text-anchor="middle" textLength="27" lengthAdjust="spacingAndGlyphs">2023</text>
<text x="374.5" y="819.3" fill="#b2b5be" stroke="#b2b5be" stroke-width="0.22" text-anchor="middle" textLength="15.5" lengthAdjust="spacingAndGlyphs">Jul</text>
<text x="528.5" y="819.3" fill="#c4c7cf" font-weight="700" text-anchor="middle" textLength="27" lengthAdjust="spacingAndGlyphs">2024</text>
<text x="682" y="819.3" fill="#b2b5be" stroke="#b2b5be" stroke-width="0.22" text-anchor="middle" textLength="15.5" lengthAdjust="spacingAndGlyphs">Jul</text>
<text x="841" y="819.3" fill="#c4c7cf" font-weight="700" text-anchor="middle" textLength="27" lengthAdjust="spacingAndGlyphs">2025</text>
<text x="995" y="819.3" fill="#b2b5be" stroke="#b2b5be" stroke-width="0.22" text-anchor="middle" textLength="15.5" lengthAdjust="spacingAndGlyphs">Jul</text>
<text x="1148.7" y="819.3" fill="#c4c7cf" font-weight="700" text-anchor="middle" textLength="27" lengthAdjust="spacingAndGlyphs">2026</text>
<text x="1302" y="819.3" fill="#b2b5be" stroke="#b2b5be" stroke-width="0.22" text-anchor="middle" textLength="15.5" lengthAdjust="spacingAndGlyphs">Jul</text>
<g id="icons">
<circle cx="1120" cy="763.6" r="11" fill="#131722"/>
<circle cx="1120" cy="763.6" r="9.6" fill="#0d0f16" stroke="#9a55cc" stroke-width="1.3"/>
<path d="M1122.9 758.2 L1115.7 765.9 L1119.5 765.9 L1116.5 770 L1124.1 762.5 L1120.3 762.5 Z" fill="#b45ae6"/>
<circle cx="1126.4" cy="756.6" r="4.3" fill="#131722"/>
<circle cx="1126.4" cy="756.6" r="3" fill="#f23f4c"/>
<path d="M1108.6 761.2 Q1109.6 765.9 1114.2 766.9 Q1109.6 767.9 1108.6 772.6 Q1107.6 767.9 1103 766.9 Q1107.6 765.9 1108.6 761.2 Z" fill="#7c4dff" stroke="#131722" stroke-width="1.2" paint-order="stroke"/>
<clipPath id="fl1"><circle cx="1125.6" cy="788.2" r="7.6"/></clipPath>
<clipPath id="fl2"><circle cx="1118.6" cy="788.2" r="7.6"/></clipPath>
<circle cx="1125.6" cy="788.2" r="10" fill="#131722" stroke="#e4434f" stroke-width="1.5"/>
<g clip-path="url(#fl1)"><rect x="1117" y="780" width="18" height="17" fill="#f0f0f0"/><rect x="1117" y="780.6" width="18" height="2.6" fill="#e8505a"/><rect x="1117" y="785.6" width="18" height="2.6" fill="#e8505a"/><rect x="1117" y="790.6" width="18" height="2.6" fill="#e8505a"/><rect x="1117" y="794.6" width="18" height="2.6" fill="#e8505a"/></g>
<circle cx="1118.6" cy="788.2" r="11.2" fill="#131722"/>
<circle cx="1118.6" cy="788.2" r="10" fill="#131722" stroke="#e4434f" stroke-width="1.5"/>
<g clip-path="url(#fl2)"><rect x="1110" y="780" width="18" height="17" fill="#f4f4f4"/><rect x="1110" y="780.6" width="18" height="2.4" fill="#e8505a"/><rect x="1110" y="785.4" width="18" height="2.4" fill="#e8505a"/><rect x="1110" y="790.6" width="18" height="1.6" fill="#f0a0a0"/><rect x="1110" y="793.4" width="18" height="3.4" fill="#e8505a"/><rect x="1110" y="780" width="10.2" height="9.4" fill="#4a9af4"/>
<g fill="#e8f2ff"><circle cx="1113.2" cy="782.6" r="0.6"/><circle cx="1115.6" cy="782.6" r="0.6"/><circle cx="1118" cy="782.6" r="0.6"/><circle cx="1112.4" cy="785" r="0.6"/><circle cx="1114.8" cy="785" r="0.6"/><circle cx="1117.2" cy="785" r="0.6"/><circle cx="1112.4" cy="787.4" r="0.6"/><circle cx="1114.8" cy="787.4" r="0.6"/><circle cx="1117.2" cy="787.4" r="0.6"/></g></g>
</g>
<g fill="#d9d9d9"><path d="M12 851.3 h11.5 v14.7 h-5.6 v-9 h-5.9z"/><circle cx="27.8" cy="854.3" r="3"/><path d="M34.2 851.3 h7.6 l-6.2 14.7 h-7.4z"/></g>
<text x="49.3" y="866" fill="#d9d9d9" font-weight="700" font-size="20.5" textLength="120" lengthAdjust="spacingAndGlyphs">TradingView</text>
</svg>
</body></html>
